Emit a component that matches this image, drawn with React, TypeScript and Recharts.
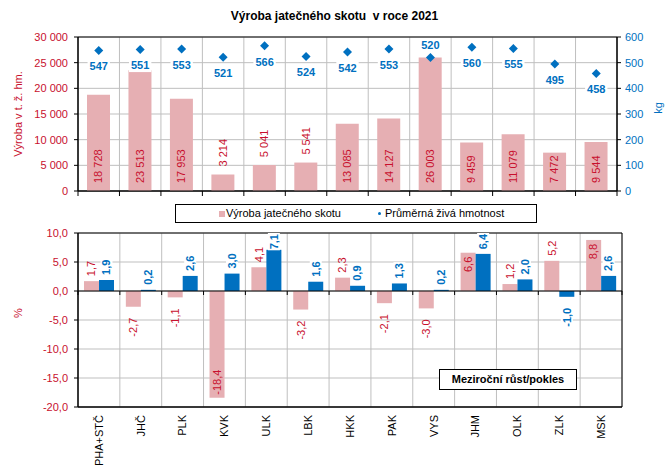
import React from "react";
import {
  Bar,
  CartesianGrid,
  ComposedChart,
  Label,
  LabelList,
  ReferenceArea,
  ReferenceLine,
  Scatter,
  XAxis,
  YAxis,
} from "recharts";

const regions = ["PHA+STČ", "JHČ", "PLK", "KVK", "ULK", "LBK", "HKK", "PAK", "VYS", "JHM", "OLK", "ZLK", "MSK"];
const production = [18728, 23513, 17953, 3214, 5041, 5541, 13085, 14127, 26003, 9459, 11079, 7472, 9544];
const liveWeight = [547, 551, 553, 521, 566, 524, 542, 553, 520, 560, 555, 495, 458];
const productionChange = [1.7, -2.7, -1.1, -18.4, 4.1, -3.2, 2.3, -2.1, -3.0, 6.6, 1.2, 5.2, 8.8];
const weightChange = [1.9, 0.2, 2.6, 3.0, 7.1, 1.6, 0.9, 1.3, 0.2, 6.4, 2.0, -1.0, 2.6];

const prodTicks = [0, 5000, 10000, 15000, 20000, 25000, 30000];
const weightTicks = [0, 100, 200, 300, 400, 500, 600];
const changeTicks = [-20, -15, -10, -5, 0, 5, 10];

const data = regions.map((region, i) => ({
  region,
  production: production[i],
  weight: liveWeight[i],
  prodChg: productionChange[i],
  weightChg: weightChange[i],
}));

const RED = "#c8102e";
const BLUE = "#0070c0";
const PINK = "#e6afb3";
const GRID = "#bfbfbf";
const FONT = "'Liberation Sans', Arial, sans-serif";
const N = regions.length;

const thousands = (v: number) => String(v).replace(/\B(?=(\d{3})+(?!\d))/g, " ");
const comma1 = (v: number) => v.toFixed(1).replace(".", ",");
// rough Arial width of digit strings
const textLen = (s: string, fs = 11) =>
  [...s].reduce((a, c) => a + (c === " " || c === "," ? 0.278 : c === "-" ? 0.333 : 0.556) * fs, 0);

const boundaries = ({ offset }: any) =>
  Array.from({ length: N + 1 }, (_, i) => offset.left + (i * offset.width) / N);

function BoundaryTick(p: any) {
  const { x, y, index } = p;
  const band = (p.width || 539) / N;
  return (
    <g>
      <line x1={x - band / 2} y1={y} x2={x - band / 2} y2={y + 5} stroke="#000" />
      {index === N - 1 && <line x1={x + band / 2} y1={y} x2={x + band / 2} y2={y + 5} stroke="#000" />}
    </g>
  );
}

function ProdLabel(p: any) {
  const { x, y, width, height, value } = p;
  const s = thousands(value);
  const cx = x + width / 2;
  const inside = height >= textLen(s) + 9;
  const ay = inside ? y + height - 8 : y - 8;
  return (
    <text x={cx} y={ay} dy="0.35em" transform={`rotate(-90 ${cx} ${ay})`} textAnchor="start"
      fill={RED} fontSize={11} fontFamily={FONT}>
      {s}
    </text>
  );
}

function WeightPoint(p: any) {
  const { cx, cy, payload } = p;
  const s = String(payload.weight);
  const above = payload.production / 30000 > payload.weight / 600 - 0.1;
  const ly = above ? cy - 12 : cy + 16;
  const w = textLen(s, 11) + 4;
  const r = 4.5;
  return (
    <g>
      <polygon points={`${cx},${cy - r} ${cx + r},${cy} ${cx},${cy + r} ${cx - r},${cy}`} fill={BLUE} />
      <rect x={cx - w / 2} y={ly - 6.5} width={w} height={13} fill="#fff" />
      <text x={cx} y={ly} dy="0.35em" textAnchor="middle" fill={BLUE} fontSize={11}
        fontWeight="bold" fontFamily={FONT}>
        {s}
      </text>
    </g>
  );
}

// pink labels move inside the bar early, blue ones squeeze up to the plot edge
const changeLabel = (color: string, bold: boolean) => (p: any) => {
  const { x, y, width, height, value } = p;
  const s = comma1(value);
  const cx = x + width / 2;
  const top = Math.min(y, y + height);
  const bottom = Math.max(y, y + height);
  const len = textLen(s, 11);
  const px = Math.abs(height) / Math.abs(value || 1);
  const zeroY = value >= 0 ? bottom : top;
  const small = Math.abs(value) < 1;
  const plotTop = zeroY - 10 * px;
  const plotBottom = zeroY + 20 * px;
  let ay: number;
  let anchor: "start" | "end";
  if (value >= 0) {
    anchor = "start";
    ay = top - 5;
    if (!small) {
      if (!bold && ay - len < plotTop + 5) { ay = top + 4; anchor = "end"; }
      else if (bold && ay - len < plotTop + 1) {
        ay = plotTop + 1 + len;
        if (ay > top + 0.5) { ay = top + 4; anchor = "end"; }
      }
    }
  } else if (small || bottom + 11 + len <= plotBottom) { ay = bottom + 11; anchor = "end"; }
  else { ay = bottom - 3; anchor = "start"; }
  return (
    <g transform={`rotate(-90 ${cx} ${ay})`}>
      {bold && <rect x={anchor === "start" ? cx - 1 : cx - len - 1} y={ay - 6} width={len + 2} height={12} fill="#fff" />}
      <text x={cx} y={ay} dy="0.35em" textAnchor={anchor} fill={color} fontSize={11}
        fontWeight={bold ? "bold" : "normal"} fontFamily={FONT}>
        {s}
      </text>
    </g>
  );
};

function RegionTick(p: any) {
  const { x, y, payload } = p;
  return (
    <text x={x} y={y} dy="0.35em" transform={`rotate(-90 ${x} ${y})`} textAnchor="end"
      fill="#000" fontSize={11} fontFamily={FONT}>
      {payload.value}
    </text>
  );
}

function ZeroAxis(p: any) {
  const { x1, x2, y1 } = p;
  const step = (x2 - x1) / N;
  return (
    <g>
      <line x1={x1} y1={y1} x2={x2} y2={y1} stroke="#000" />
      {Array.from({ length: N + 1 }, (_, i) => (
        <line key={i} x1={x1 + i * step} y1={y1} x2={x1 + i * step} y2={y1 + 4} stroke="#000" />
      ))}
    </g>
  );
}

const tickFont = { fontSize: 11, fontFamily: FONT };

export default function App() {
  return (
    <div style={{ position: "absolute", left: 0, top: 0, width: 671, height: 467, background: "#fff", fontFamily: FONT }}>
      <div style={{ position: "absolute", left: 0, top: 10, width: 669, textAlign: "center", fontSize: 12,
        lineHeight: "12px", fontWeight: "bold", whiteSpace: "pre", color: "#000" }}>
        {"Výroba jatečného skotu  v roce 2021"}
      </div>

      <div style={{ position: "absolute", left: 0, top: 0 }}>
        <ComposedChart width={671} height={200} data={data} margin={{ top: 37, right: 0, bottom: 0, left: 0 }}>
          <CartesianGrid yAxisId="left" stroke={GRID} verticalCoordinatesGenerator={boundaries} />
          <XAxis dataKey="region" height={9} tick={BoundaryTick} tickLine={false} tickSize={0} tickMargin={0}
            axisLine={{ stroke: "#000" }} interval={0} />
          <YAxis yAxisId="left" domain={[0, 30000]} ticks={prodTicks} tickFormatter={thousands} width={78}
            tick={{ ...tickFont, fill: RED }} axisLine={{ stroke: "#000" }} tickLine={{ stroke: "#000" }}
            tickSize={4} tickMargin={6} interval={0}>
            <Label value="Výroba v t. ž. hm." angle={-90} position="center" dx={-21} fill={RED} fontSize={11} fontFamily={FONT} />
          </YAxis>
          <YAxis yAxisId="right" orientation="right" domain={[0, 600]} ticks={weightTicks} width={54}
            tick={{ ...tickFont, fill: BLUE }} axisLine={{ stroke: "#000" }} tickLine={{ stroke: "#000" }}
            tickSize={4} tickMargin={4} interval={0}>
            <Label value="kg" angle={-90} position="center" dx={14} dy={-6} fill={BLUE} fontSize={11} fontFamily={FONT} />
          </YAxis>
          <Bar yAxisId="left" dataKey="production" fill={PINK} barSize={23} isAnimationActive={false}>
            <LabelList dataKey="production" content={ProdLabel} />
          </Bar>
          <Scatter yAxisId="right" dataKey="weight" shape={WeightPoint} isAnimationActive={false} />
          <ReferenceArea yAxisId="left" y1={0} y2={30000} fill="none" stroke="#000" ifOverflow="visible" />
        </ComposedChart>
      </div>

      <div style={{ position: "absolute", left: 175, top: 204, width: 360, height: 17, border: "1px solid #000",
        background: "#fff", fontSize: 11, color: "#000" }}>
        <span style={{ position: "absolute", left: 43, top: 6, width: 6, height: 6, background: PINK }} />
        <span style={{ position: "absolute", left: 50, top: 1, lineHeight: "14px" }}>Výroba jatečného skotu</span>
        <span style={{ position: "absolute", left: 202, top: 7, width: 3, height: 3, background: BLUE, borderRadius: 2 }} />
        <span style={{ position: "absolute", left: 209, top: 1, lineHeight: "14px" }}>Průměrná živá hmotnost</span>
      </div>

      <div style={{ position: "absolute", left: 0, top: 200 }}>
        <ComposedChart width={671} height={267} data={data} margin={{ top: 33, right: 49, bottom: 0, left: 0 }}
          barGap={0}>
          <CartesianGrid stroke={GRID} verticalCoordinatesGenerator={boundaries} />
          <XAxis dataKey="region" height={60} tick={RegionTick} tickLine={false} tickSize={0} tickMargin={8}
            axisLine={{ stroke: "#000" }} interval={0} />
          <YAxis domain={[-20, 10]} ticks={changeTicks} tickFormatter={comma1} width={78}
            tick={{ ...tickFont, fill: RED }} axisLine={{ stroke: "#000" }} tickLine={{ stroke: "#000" }}
            tickSize={4} tickMargin={6} interval={0}>
            <Label value="%" angle={-90} position="center" dx={-21} dy={-7} fill={RED} fontSize={11} fontFamily={FONT} />
          </YAxis>
          <Bar dataKey="prodChg" fill={PINK} barSize={15} isAnimationActive={false}>
            <LabelList dataKey="prodChg" content={changeLabel(RED, false)} />
          </Bar>
          <Bar dataKey="weightChg" fill={BLUE} barSize={15} isAnimationActive={false}>
            <LabelList dataKey="weightChg" content={changeLabel(BLUE, true)} />
          </Bar>
          <ReferenceLine y={0} shape={ZeroAxis} />
          <ReferenceArea y1={-20} y2={10} fill="none" stroke="#000" ifOverflow="visible" />
        </ComposedChart>
      </div>

      <div style={{ position: "absolute", left: 439, top: 369, width: 136, height: 19, border: "1px solid #000",
        background: "#fff", fontSize: 11, fontWeight: "bold", lineHeight: "19px", textAlign: "center", color: "#000" }}>
        Meziroční růst/pokles
      </div>
    </div>
  );
}
